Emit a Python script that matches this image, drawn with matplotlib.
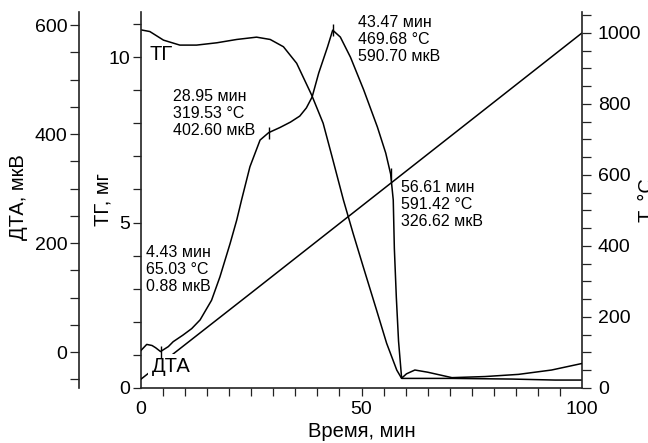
import matplotlib
matplotlib.use('Agg')
import matplotlib.pyplot as plt
from matplotlib.ticker import MultipleLocator, FixedLocator

plt.rcParams['font.family'] = ['Liberation Sans', 'DejaVu Sans']

# ---------------- data ----------------
time_dta = [0, 1.3, 2.5, 3.3, 4.43, 6.2, 7.3, 9.5, 11.5, 13.4, 16.0, 17.9, 20.2,
            21.7, 22.8, 24.7, 27.0, 28.95, 31.5, 33.9, 36.0, 37.5, 38.8, 40.3, 42.3,
            43.47, 45.2, 47.5, 50.5, 53.6, 55.5, 56.61, 57.2, 57.45, 57.9, 58.4,
            59.1, 60.2, 62.1, 65.0, 70.5, 78.0, 85.6, 93.1, 100]
dta = [3, 14, 12, 8, 0.88, 10, 19, 31, 43, 59, 95, 138, 199,
       242, 279, 340, 389, 402.6, 412, 422, 433, 448, 468, 512, 560,
       590.7, 578, 541, 481, 413, 365, 326.62, 279, 190, 100, 20,
       -48, -40, -33, -37, -47, -45, -41, -33, -21]

time_tg = [0, 2.0, 5.1, 8.8, 12.6, 17.2, 21.7, 26.2, 29.3, 32.3, 35.3, 38.7,
           41.3, 43.3, 45.9, 48.1, 50.4, 53.4, 55.7, 58.0, 59.1, 70.5, 84.1,
           93.9, 100]
tg = [10.82, 10.77, 10.51, 10.36, 10.36, 10.43, 10.53, 10.60, 10.53, 10.31,
      9.81, 8.85, 8.00, 7.00, 5.68, 4.67, 3.66, 2.36, 1.35, 0.54, 0.29, 0.29,
      0.27, 0.24, 0.24]

time_temp = [0, 25, 50, 75, 100]
temp = [25, 268, 512, 756, 1000]

peak_time = [4.43, 28.95, 43.47, 56.61]
peak_temp = [65.03, 319.53, 469.68, 591.42]
peak_dta = [0.88, 402.60, 590.70, 326.62]

x_major = [0, 50, 100]
tg_major = [0, 5, 10]
dta_major = [0, 200, 400, 600]
temp_major = [0, 200, 400, 600, 800, 1000]

# ---------------- layout (pixels) ----------------
W, H = 648, 443
L, R, B, T = 141, 582, 388, 12


def px(x, y):
    return ((x - L) / (R - L), (B - y) / (B - T))


fig = plt.figure(figsize=(W / 100, H / 100), dpi=100)
ax = fig.add_axes([L / W, 1 - B / H, (R - L) / W, (B - T) / H])
ax_t = ax.twinx()
ax_d = ax.twinx()

spine_c = '#222222'
line_kw = dict(color='black', lw=1.1)
tick_fs = 14

# main axis (TG)
ax.plot(time_tg, tg, **line_kw)
ax.set_xlim(0, 100)
ax.set_ylim(0, 11.36)
for s in ['top', 'right']:
    ax.spines[s].set_visible(False)
for s in ['left', 'bottom']:
    ax.spines[s].set_color(spine_c)
    ax.spines[s].set_linewidth(1.2)
ax.xaxis.set_major_locator(FixedLocator(x_major))
ax.xaxis.remove_overlapping_locs = False
ax.xaxis.set_minor_locator(FixedLocator(list(range(5, 100, 5))))
ax.tick_params(axis='x', which='major', length=0, pad=9, labelsize=tick_fs)
ax.tick_params(axis='x', which='minor', length=6, width=0.9, direction='out', color=spine_c)
ax.yaxis.set_major_locator(FixedLocator(tg_major))
ax.yaxis.set_minor_locator(MultipleLocator(1))
ax.tick_params(axis='y', which='both', length=6, width=0.9, direction='out',
               color=spine_c, pad=1.5, labelsize=tick_fs)
ax.tick_params(axis='y', which='minor', labelleft=False)
ax.set_ylabel('ТГ, мг', fontsize=14.5)
ax.yaxis.set_label_coords(-0.064, 0.5)
ax.set_xlabel('Время, мин', fontsize=14.5)
ax.xaxis.set_label_coords(0.5, -0.091)

# temperature axis (right)
ax_t.plot(time_temp, temp, **line_kw)
ax_t.set_ylim(0, 1059)
for s in ['top', 'left', 'bottom']:
    ax_t.spines[s].set_visible(False)
ax_t.spines['right'].set_color(spine_c)
ax_t.spines['right'].set_linewidth(1.2)
ax_t.yaxis.set_major_locator(FixedLocator(temp_major))
ax_t.yaxis.set_minor_locator(MultipleLocator(50))
ax_t.tick_params(axis='y', which='both', length=6.5, width=0.9, direction='out',
                 color=spine_c, pad=5, labelsize=tick_fs)
ax_t.set_ylabel('Т, °С', fontsize=14.5)
ax_t.yaxis.set_label_coords(1.126, 0.5)
ax_t.text(*px(151.7, 357), 'ДТА', transform=ax_t.transAxes, ha='left', va='top',
          fontsize=14.5, zorder=5,
          bbox=dict(facecolor='white', edgecolor='none', pad=2.5))

# DTA axis (outer left)
ax_d.plot(time_dta, dta, **line_kw)
ax_d.plot(peak_time, peak_dta, ls='none', marker='|', ms=8, mew=1.0, color='black')
ax_d.set_ylim(-66, 624)
for s in ['top', 'right', 'bottom']:
    ax_d.spines[s].set_visible(False)
ax_d.spines['left'].set_visible(True)
ax_d.spines['left'].set_position(('axes', (79 - L) / (R - L)))
ax_d.spines['left'].set_color(spine_c)
ax_d.spines['left'].set_linewidth(1.2)
ax_d.yaxis.set_ticks_position('left')
ax_d.yaxis.set_label_position('left')
ax_d.yaxis.set_major_locator(FixedLocator(dta_major))
ax_d.yaxis.set_minor_locator(MultipleLocator(50))
ax_d.tick_params(axis='y', which='both', length=6.5, width=0.9, direction='out',
                 color=spine_c, pad=2, labelsize=tick_fs)
ax_d.set_ylabel('ДТА, мкВ', fontsize=14.5)
ax_d.yaxis.set_label_coords(-0.257, 0.507)

# annotations
ann_pos = [(146, 245), (173, 89), (358.3, 15.5), (401, 180)]
for (x, y), tm, tc, dv in zip(ann_pos, peak_time, peak_temp, peak_dta):
    ax_d.text(*px(x, y), f'{tm:.2f} мин\n{tc:.2f} °C\n{dv:.2f} мкВ',
              transform=ax_d.transAxes, ha='left', va='top',
              fontsize=11.5, linespacing=1.15)
ax_d.text(*px(150, 45.5), 'ТГ', transform=ax_d.transAxes, ha='left', va='top',
          fontsize=14.5)

fig.savefig('out.png', dpi=100)
